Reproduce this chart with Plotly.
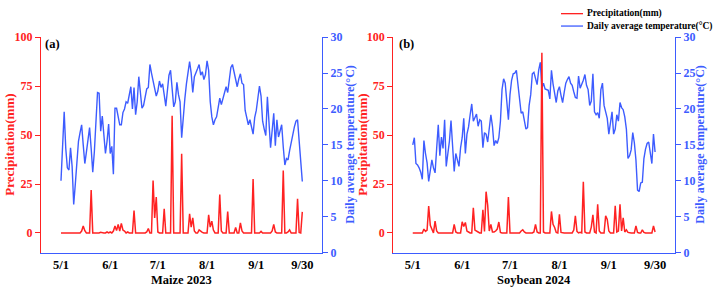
import pandas as pd
import plotly.graph_objects as go

# ---------------- data ----------------
maize_temp = [10.0, 15.0, 19.6, 14.5, 11.8, 11.5, 14.6, 12.0, 6.7, 9.5,
              12.5, 15.5, 16.7, 17.8, 15.0, 12.4, 14.0, 15.8, 17.4, 14.5,
              11.2, 14.0, 18.0, 22.3, 22.2, 16.9, 19.0, 15.6, 13.8, 15.5,
              17.9, 13.8, 14.8, 10.9, 20.1, 20.1, 19.0, 17.8, 17.8, 19.5,
              20.0, 21.0, 20.8, 21.8, 23.1, 20.0, 23.0, 19.2, 21.0, 24.5,
              22.0, 20.1, 20.5, 21.5, 22.8, 23.0, 26.2, 25.0, 24.0, 23.0,
              21.8, 22.5, 23.9, 23.0, 23.5, 22.0, 20.4, 22.5, 24.7, 25.4,
              22.5, 20.3, 21.0, 23.7, 22.0, 21.0, 16.0, 19.0, 21.4, 23.5,
              24.9, 26.6, 25.0, 22.3, 24.5, 25.2, 25.6, 26.2, 24.7, 25.2,
              24.1, 24.8, 26.7, 25.4, 21.0, 18.9, 17.8, 18.5, 18.9, 20.2,
              21.5, 20.6, 21.5, 22.6, 23.1, 22.3, 24.2, 25.8, 26.2, 25.2,
              24.3, 23.1, 24.2, 24.9, 23.6, 23.4, 19.8, 18.8, 17.8, 18.5,
              17.2, 16.5, 18.8, 19.8, 21.5, 23.2, 21.8, 18.3, 17.2, 16.3,
              21.7, 17.5, 14.6, 17.0, 19.4, 14.9, 18.5, 16.1, 16.8, 17.8,
              14.7, 12.2, 13.1, 12.9, 14.2, 15.5, 16.7, 17.5, 18.3, 18.5,
              15.6, 12.9, 9.9]

maize_prec = [0, 0, 0, 0, 0, 0, 0, 0, 0, 0,
              0, 0, 0, 1.0, 3.6, 1.2, 0, 0, 0, 21.9,
              0, 0, 0, 0, 0, 0.4, 0, 0, 0, 0.5,
              0, 0.5, 0, 1.0, 3.6, 1.2, 4.4, 1.0, 4.9, 1.5,
              1.0, 0, 0.5, 0, 0, 0, 11.4, 0, 0, 0,
              0.3, 0, 0, 0, 0.5, 2.3, 0, 0, 26.8, 7.7,
              18.3, 0.5, 0, 0, 0, 12.3, 0, 0, 0, 0,
              59.9, 0, 0, 0, 0, 0, 40.4, 0, 0, 0,
              0, 9.8, 3.0, 7.7, 1.0, 0, 0, 1.6, 0.8, 0.3,
              0, 0, 0, 9.3, 3.0, 6.0, 1.5, 0, 0, 0,
              19.6, 1.0, 0, 0, 0, 11.0, 0, 0, 0, 0,
              2.8, 0, 0, 5.2, 1.0, 0, 0, 0, 0, 0,
              0, 27.6, 0, 0, 0, 0, 0.8, 0, 0, 0,
              0, 0, 0, 1.0, 4.4, 0.5, 0, 0, 0, 0,
              31.9, 0, 0, 0.5, 1.6, 0, 0, 0, 0, 17.5,
              0.3, 0, 10.8]

soy_temp = [15.0, 16.0, 12.4, 12.2, 11.8, 11.2, 10.2, 15.6, 13.8, 12.5,
            9.9, 11.5, 12.9, 11.8, 11.1, 14.5, 17.8, 13.5, 16.1, 14.5,
            18.5, 12.0, 13.8, 15.5, 18.4, 14.0, 11.3, 13.8, 12.8, 12.0,
            14.6, 16.0, 18.7, 13.8, 16.5, 17.5, 19.2, 20.7, 18.3, 18.8,
            19.3, 17.6, 18.5, 18.3, 14.6, 16.7, 16.5, 15.4, 17.0, 19.2,
            17.6, 14.9, 15.6, 15.2, 16.0, 18.3, 22.7, 24.2, 23.6, 21.0,
            18.5, 22.0, 24.0, 24.9, 25.0, 25.4, 23.5, 21.8, 19.4, 19.6,
            18.5, 17.2, 17.4, 20.5, 22.0, 24.9, 25.1, 24.2, 23.4, 25.4,
            26.5, 22.9, 23.6, 22.8, 22.7, 22.6, 21.4, 25.4, 23.5, 21.8,
            20.9, 22.5, 23.1, 21.9, 20.9, 22.3, 23.6, 24.1, 24.5, 23.6,
            23.3, 22.4, 21.6, 21.5, 24.6, 22.9, 23.4, 24.0, 24.8, 23.3,
            22.7, 20.5, 21.1, 24.9, 19.6, 19.2, 19.5, 18.7, 22.7, 23.6,
            20.5, 19.6, 18.7, 16.5, 18.3, 19.6, 16.5, 17.2, 19.2, 18.3,
            20.9, 20.2, 19.9, 18.9, 17.2, 13.1, 13.5, 14.3, 16.7, 15.3,
            12.9, 8.7, 8.5, 9.7, 9.8, 13.1, 14.4, 15.2, 15.4, 14.0,
            12.4, 16.5, 14.0]

soy_prec = [0, 0, 0, 0, 0, 0, 0, 2.0, 0.8, 1.5,
            13.7, 3.9, 1.5, 0, 6.0, 1.0, 0, 0, 0, 0,
            0, 0.3, 0, 0, 0, 0, 4.4, 0.5, 0, 0,
            0, 5.7, 3.3, 5.4, 1.0, 0.5, 0, 0, 12.9, 1.5,
            1.2, 0.5, 0, 0, 11.8, 0.8, 21.1, 14.2, 1.0, 4.4,
            0.5, 0.5, 1.0, 2.0, 5.6, 0.3, 0, 0, 0, 0,
            18.3, 0, 0, 0, 0, 0, 0, 0, 1.0, 1.6,
            0.5, 0, 0, 0, 0, 0, 0.5, 4.4, 0.5, 0,
            0, 92.0, 0.5, 0, 0, 0, 0, 11.0, 4.4, 2.8,
            0.3, 0, 9.5, 0.3, 0, 0, 0, 0, 0, 0,
            0, 1.5, 8.8, 0.8, 0, 0.3, 0, 26.1, 0.5, 0,
            0, 0, 3.0, 9.3, 0.5, 0, 14.7, 1.0, 0, 0,
            0, 8.8, 6.9, 1.0, 0, 0, 0, 13.9, 0.5, 1.0,
            14.7, 1.0, 7.7, 0.5, 1.6, 0.3, 0, 0, 0, 0,
            3.6, 0.3, 0, 0, 1.6, 0.3, 0, 0, 0, 0,
            0, 3.6, 0.5]

tick_labels = ["5/1", "6/1", "7/1", "8/1", "9/1", "9/30"]
tick_days = [0, 31, 61, 92, 123, 152]
panel_titles = ["Maize 2023", "Soybean 2024"]
panel_tags = ["(a)", "(b)"]
prec_name = "Precipitation(mm)"
temp_name = "Daily average temperature(°C)"

days = list(range(len(maize_temp)))

RED = "#ff2222"
BLUE = "#3d5cff"
FONT = "Liberation Serif"
W, H = 716, 297

def px(x):
    return x / W

def py(y):
    return 1 - y / H

fig = go.Figure()

fig.add_trace(go.Scatter(x=days, y=maize_temp, mode="lines", xaxis="x", yaxis="y",
                         line=dict(color=BLUE, width=1.4), showlegend=False))
fig.add_trace(go.Scatter(x=days, y=maize_prec, mode="lines", xaxis="x", yaxis="y2",
                         line=dict(color=RED, width=1.5), showlegend=False))
fig.add_trace(go.Scatter(x=days, y=soy_temp, mode="lines", xaxis="x2", yaxis="y3",
                         line=dict(color=BLUE, width=1.4), showlegend=False))
fig.add_trace(go.Scatter(x=days, y=soy_prec, mode="lines", xaxis="x2", yaxis="y4",
                         line=dict(color=RED, width=1.5), showlegend=False))

ydom = [py(257.7), py(31.7)]
bold = dict(family=FONT, weight="bold")

def xax(domain, rng, anchor):
    return dict(domain=domain, range=rng, anchor=anchor, tickvals=tick_days,
                ticktext=tick_labels, showgrid=False, zeroline=False,
                showline=True, linecolor=BLUE, linewidth=1.3, ticks="",
                tickfont=dict(size=12.5, color="black", **bold))

def temp_ax(anchor):
    return dict(domain=ydom, range=[0, 30], tickvals=[0, 5, 10, 15, 20, 25, 30],
                side="right", anchor=anchor, showgrid=False, zeroline=False,
                showline=True, linecolor=BLUE, linewidth=1.3, ticks="outside",
                ticklen=5, tickcolor=BLUE, tickwidth=1.3,
                tickfont=dict(size=12, color=BLUE, **bold))

def prec_ax(anchor, over):
    return dict(domain=ydom, range=[-10, 100], tickvals=[0, 25, 50, 75, 100],
                side="left", anchor=anchor, overlaying=over, showgrid=False,
                zeroline=False, showline=True, linecolor=RED, linewidth=1.3,
                ticks="outside", ticklen=5, tickcolor=RED, tickwidth=1.3,
                tickfont=dict(size=12, color=RED, **bold))

fig.update_layout(
    width=W, height=H, autosize=False,
    margin=dict(l=0, r=0, t=0, b=0),
    paper_bgcolor="white", plot_bgcolor="white",
    xaxis=xax([px(41), px(322)], [-12.6, 164.4], "y"),
    xaxis2=xax([px(393.3), px(675)], [-12.2, 164.5], "y3"),
    yaxis=temp_ax("x"),
    yaxis2=prec_ax("x", "y"),
    yaxis3=temp_ax("x2"),
    yaxis4=prec_ax("x2", "y3"),
    showlegend=False,
)

ann = []
def add_text(x, y, text, size, color, angle=0, xanchor="center"):
    ann.append(dict(x=px(x), y=py(y), xref="paper", yref="paper", text=text,
                    showarrow=False, textangle=angle, xanchor=xanchor,
                    yanchor="middle", font=dict(size=size, color=color, **bold)))

# axis titles
add_text(10, 144.5, prec_name, 13, RED, -90)
add_text(350, 144.5, temp_name, 12, BLUE, -90)
add_text(363, 144.5, prec_name, 13, RED, -90)
add_text(700, 144.5, temp_name, 12, BLUE, -90)
# x titles
add_text(181.5, 287, panel_titles[0], 12.5, "black")
add_text(534, 287, panel_titles[1], 12.5, "black")
# panel tags
add_text(43, 39, panel_tags[0], 12.5, "black", xanchor="left")
add_text(397, 39, panel_tags[1], 12.5, "black", xanchor="left")
# legend text
add_text(585, 7, prec_name, 9.5, "black", xanchor="left")
add_text(585, 20, temp_name, 9.5, "black", xanchor="left")
fig.update_layout(annotations=ann)

fig.update_layout(shapes=[
    dict(type="line", xref="paper", yref="paper", x0=px(561), x1=px(583),
         y0=py(7), y1=py(7), line=dict(color=RED, width=1.3)),
    dict(type="line", xref="paper", yref="paper", x0=px(561), x1=px(583),
         y0=py(20), y1=py(20), line=dict(color=BLUE, width=1.3)),
])

fig.write_html("out.html")
